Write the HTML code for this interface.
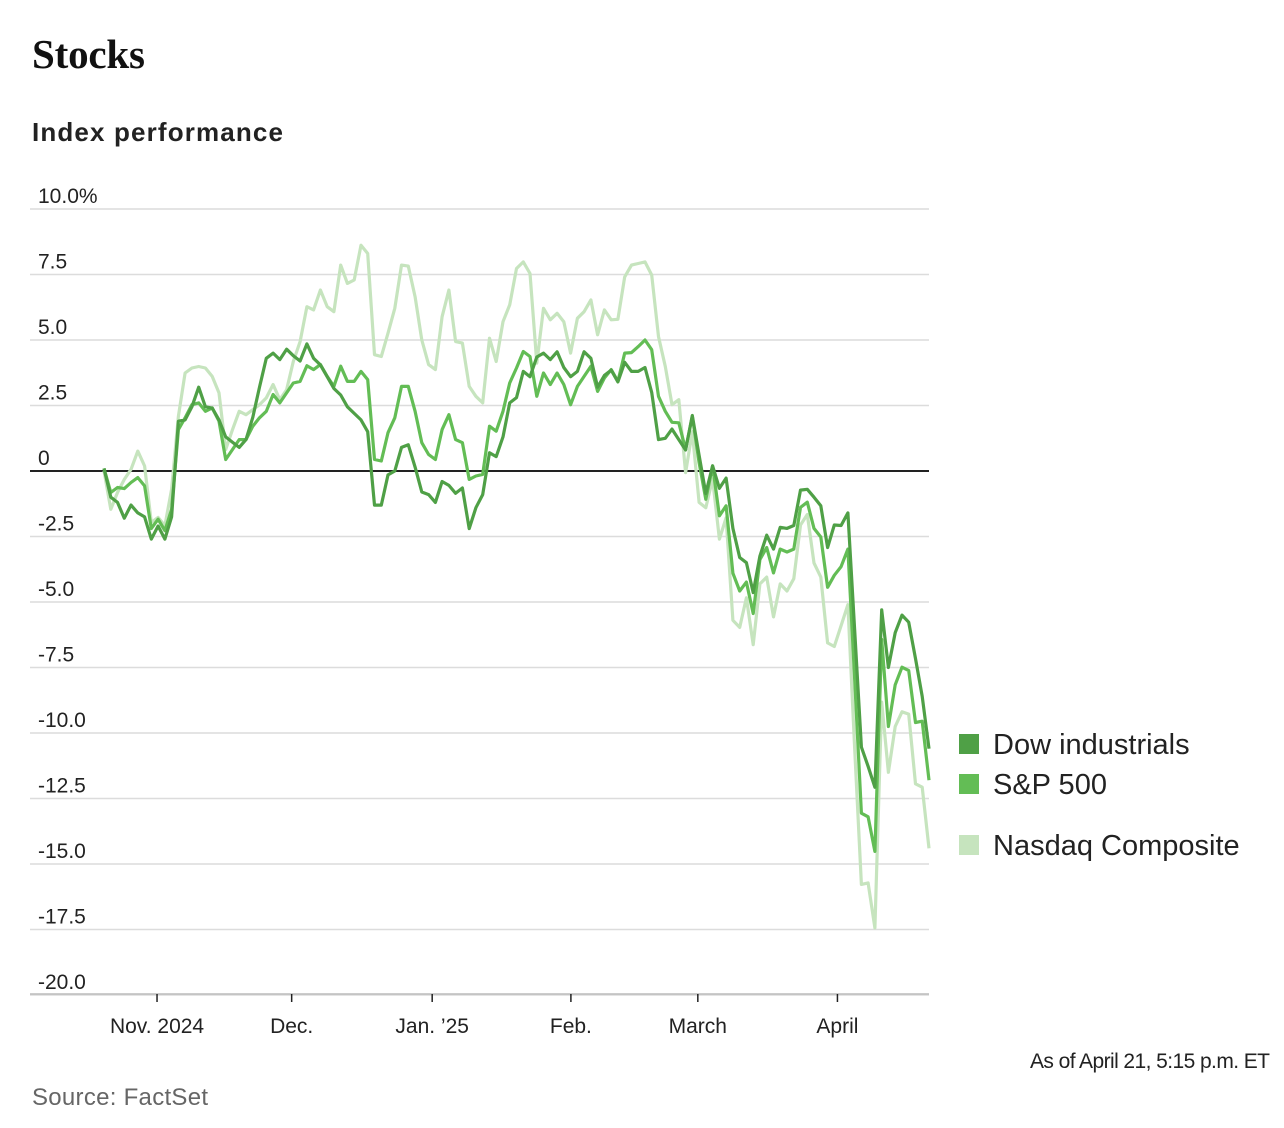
<!DOCTYPE html>
<html><head><meta charset="utf-8">
<style>
body{margin:0;background:#fff;width:1284px;height:1128px;overflow:hidden;font-family:"Liberation Sans",sans-serif;}
svg{position:absolute;left:0;top:0}
</style></head>
<body>
<svg id="chart" width="1284" height="1128">
<text x="32" y="68" font-family="Liberation Serif,serif" font-weight="bold" font-size="41" fill="#111" textLength="113">Stocks</text>
<text x="32" y="141" font-weight="bold" font-size="26" fill="#222" textLength="251">Index performance</text>
<g id="grid"></g>
<g id="xaxis"></g>
<g id="lines"></g>
<g id="legend"></g>
<text x="1270" y="1068" text-anchor="end" font-size="21" fill="#222" textLength="240">As of April 21, 5:15 p.m. ET</text>
<text x="32" y="1105" font-size="24" fill="#666" textLength="176">Source: FactSet</text>
</svg>
<script>
const yTicks=[10,7.5,5,2.5,0,-2.5,-5,-7.5,-10,-12.5,-15,-17.5,-20];
const yTickLabels=["10.0%","7.5","5.0","2.5","0","-2.5","-5.0","-7.5","-10.0","-12.5","-15.0","-17.5","-20.0"];
const xTickDays=[11.7,41.4,72.4,103,131,161.8];
const xTickLabels=["Nov. 2024","Dec.","Jan. \u201925","Feb.","March","April"];
const seriesNames=["Nasdaq Composite","S&P 500","Dow industrials"];
const dow=[0.1,-1.0,-1.2,-1.8,-1.3,-1.6,-1.75,-2.6,-2.1,-2.6,-1.75,1.9,1.95,2.45,3.2,2.45,2.4,1.95,1.3,1.1,0.9,1.2,2.05,3.2,4.3,4.5,4.25,4.65,4.4,4.2,4.85,4.3,4.05,3.6,3.15,2.9,2.45,2.2,1.95,1.5,-1.3,-1.3,-0.15,0,0.9,1.0,0.15,-0.8,-0.9,-1.2,-0.4,-0.55,-0.85,-0.65,-2.2,-1.4,-0.9,0.7,0.55,1.3,2.6,2.8,3.8,3.6,4.35,4.5,4.25,4.55,3.95,3.6,3.8,4.55,4.3,3.2,3.65,3.85,3.4,4.15,3.8,3.8,3.95,3.0,1.2,1.25,1.6,1.2,0.8,2.12,0.6,-0.86,0.2,-0.66,-0.27,-2.19,-3.3,-3.5,-4.64,-3.25,-2.45,-2.98,-2.15,-2.19,-2.08,-0.73,-0.7,-1.0,-1.33,-2.92,-2.06,-2.08,-1.6,-6.03,-10.54,-11.27,-12.07,-5.3,-7.5,-6.17,-5.5,-5.77,-7.16,-8.6,-10.6];
const sp=[0.1,-0.82,-0.63,-0.67,-0.44,-0.25,-0.57,-2.2,-1.84,-2.28,-1.46,1.58,2.03,2.53,2.6,2.28,2.41,1.9,0.44,0.82,1.2,1.2,1.71,2.03,2.28,2.92,2.6,2.98,3.36,3.42,4.02,3.87,4.06,3.61,3.23,4.0,3.42,3.42,3.8,3.49,0.44,0.38,1.46,2.03,3.23,3.23,2.28,1.08,0.63,0.44,1.58,2.15,1.2,1.08,-0.32,-0.19,-0.13,1.71,1.52,2.28,3.36,3.93,4.56,4.37,2.85,3.74,3.3,3.74,3.3,2.53,3.23,3.61,4.0,3.04,3.55,3.87,3.42,4.5,4.52,4.75,5.0,4.63,2.85,2.28,1.86,1.84,0.82,2.09,0.32,-1.08,0.19,-1.71,-1.33,-3.9,-4.58,-4.24,-5.44,-3.38,-2.92,-3.89,-2.98,-3.09,-2.98,-1.39,-1.19,-2.19,-2.52,-4.44,-3.98,-3.65,-2.98,-7.9,-13.06,-13.2,-14.52,-6.43,-9.75,-8.16,-7.49,-7.62,-9.6,-9.55,-11.8];
const nasdaq=[0,-1.46,-0.82,-0.32,0.06,0.76,0.19,-1.96,-1.77,-2.09,-0.7,2.09,3.74,3.93,3.99,3.93,3.61,2.98,0.82,1.58,2.28,2.15,2.34,2.53,2.79,3.3,2.72,3.1,4.18,4.94,6.27,6.15,6.91,6.27,6.08,7.86,7.16,7.29,8.62,8.3,4.44,4.37,5.26,6.21,7.86,7.82,6.65,5.0,4.06,3.87,5.89,6.91,4.94,4.88,3.23,2.85,2.6,5.07,4.18,5.7,6.34,7.73,7.98,7.54,4.12,6.21,5.77,6.02,5.7,4.5,5.83,6.08,6.53,5.2,6.15,5.77,5.79,7.41,7.86,7.92,7.98,7.48,5.13,3.99,2.53,2.72,-0.06,1.5,-1.2,-1.4,-0.3,-2.6,-1.79,-5.7,-5.97,-4.84,-6.63,-4.31,-4.05,-5.57,-4.31,-4.58,-4.11,-2.06,-1.66,-3.51,-4.05,-6.56,-6.7,-5.9,-5.1,-10.54,-15.78,-15.72,-17.44,-8.82,-11.5,-9.75,-9.19,-9.28,-11.94,-12.07,-14.4];
const X0=104,X1=929,Y0=471,PPU=26.2,DAYS=182;
const y=v=>Y0-v*PPU;
const xDay=d=>X0+(X1-X0)*d/DAYS;
const xIdx=(i,n)=>X0+(X1-X0)*i/(n-1);
const NS="http://www.w3.org/2000/svg";
function mk(tag,attrs,parent){const e=document.createElementNS(NS,tag);for(const k in attrs)e.setAttribute(k,attrs[k]);parent.appendChild(e);return e;}
const grid=document.getElementById('grid');
yTicks.forEach((t,i)=>{
  const l=mk('line',{x1:30,x2:929,y1:y(t),y2:y(t),stroke:t===0?'#222':'#dcdcdc','stroke-width':t===0?2:1.5},grid);
  
  
  const tx=mk('text',{x:38,y:y(t)-6,'font-size':21,fill:'#222'},grid);
  tx.textContent=yTickLabels[i];
  
  
});
const xa=document.getElementById('xaxis');
const base=mk('line',{x1:30,x2:929,y1:994,y2:994,stroke:'#bbb','stroke-width':1.5},xa);


xTickDays.forEach((d,i)=>{
  const tk=mk('line',{x1:xDay(d),x2:xDay(d),y1:994,y2:1002,stroke:'#222','stroke-width':1.5},xa);
  
  
  const tx=mk('text',{x:xDay(d),y:1033,'font-size':21,fill:'#222','text-anchor':'middle'},xa);
  tx.textContent=xTickLabels[i];
  
  
});
const lines=document.getElementById('lines');
const colors={nasdaq:'#c6e4be',sp:'#63bd55',dow:'#4fa046'};
[['nasdaq',nasdaq],['sp',sp],['dow',dow]].forEach(([k,arr])=>{
  const d=arr.map((v,i)=>(i?'L':'M')+xIdx(i,arr.length).toFixed(1)+','+y(v).toFixed(1)).join('');
  const p=mk('path',{d:d,fill:'none',stroke:colors[k],'stroke-width':3.2,'stroke-linejoin':'round'},lines);
  
  
});
const lg=document.getElementById('legend');
[['Dow industrials',colors.dow,744],['S&P 500',colors.sp,784],['Nasdaq Composite',colors.nasdaq,845]].forEach(([n,c,yy])=>{
  const r=mk('rect',{x:959,y:yy-10,width:20,height:20,fill:c},lg);
  
  
  const t=mk('text',{x:993,y:yy+10,'font-size':29,fill:'#222'},lg);
  t.textContent=n;
  
  
});
</script>
</body></html>
